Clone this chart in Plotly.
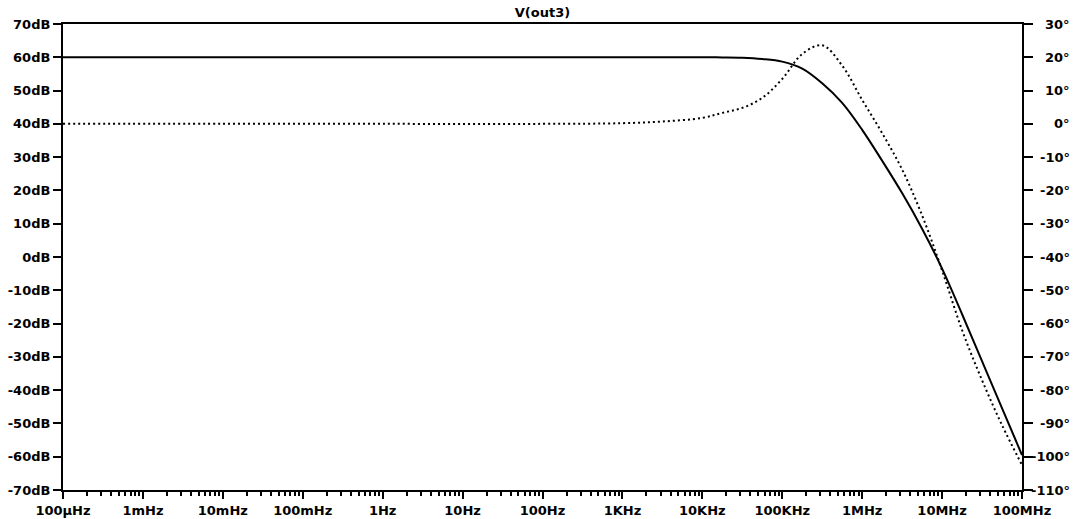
import plotly.graph_objects as go

# Magnitude of V(out3): frequencies (Hz) and dB values (solid)
mag_freq_hz = [1e-4, 1e-2, 1.0, 1e2, 1e3, 1e4, 1.78e4, 3.16e4, 5.62e4,
               1e5, 1.78e5, 3.16e5, 5.62e5, 1e6, 1.78e6, 3.16e6, 5.62e6,
               1e7, 1.78e7, 3.16e7, 5.62e7, 1e8]
mag_db = [60, 60, 60, 60, 60, 60, 59.97, 59.88, 59.5,
          58.7, 56.6, 52.2, 46.3, 38.2, 28.9, 19.2, 8.5,
          -3.5, -17.2, -31.3, -45.4, -59.5]

# Phase of V(out3): frequencies (Hz) and degrees (dotted)
phase_freq_hz = [1e-4, 1e-2, 1.0, 1e2, 1e3, 3.16e3, 1e4, 1.78e4, 3.16e4, 5.62e4,
                 1e5, 1.78e5, 3.16e5, 5.62e5, 1e6, 1.78e6, 3.16e6, 5.62e6,
                 1e7, 1.78e7, 3.16e7, 5.62e7, 1e8]
phase_deg = [0, 0, 0, 0, 0.2, 0.7, 1.8, 3.3, 4.8, 7.8,
             13.5, 21.0, 23.6, 17.5, 7.2, -2.8, -13.7, -27.5,
             -44.0, -62.0, -77.0, -90.5, -102.5]

x_tick_vals = [1e-4, 1e-3, 1e-2, 1e-1, 1, 10, 100, 1e3, 1e4, 1e5, 1e6, 1e7, 1e8]
x_tick_text = ["100µHz", "1mHz", "10mHz", "100mHz", "1Hz", "10Hz", "100Hz",
               "1KHz", "10KHz", "100KHz", "1MHz", "10MHz", "100MHz"]
x_minor_vals = [m * d for d in x_tick_vals[:-1] for m in range(2, 10)]

db_ticks = list(range(-70, 71, 10))
db_text = [f"{v}dB" for v in db_ticks]
deg_ticks = list(range(-110, 31, 10))
deg_text = [f"{v}°" for v in deg_ticks]

title_text = "V(out3)"

FONT = "DejaVu Sans"
fig = go.Figure()
fig.add_trace(go.Scatter(x=mag_freq_hz, y=mag_db, mode="lines",
                         line=dict(color="black", width=2, shape="spline", smoothing=1.0),
                         showlegend=False, hoverinfo="skip"))
fig.add_trace(go.Scatter(x=phase_freq_hz, y=phase_deg, mode="lines", yaxis="y2",
                         line=dict(color="black", width=2, dash="2px,3px",
                                   shape="spline", smoothing=1.0),
                         showlegend=False, hoverinfo="skip"))

fig.update_layout(
    width=1079, height=519,
    margin=dict(l=63, r=57, t=24, b=29, pad=0),
    paper_bgcolor="white", plot_bgcolor="white",
    font=dict(family=FONT, size=13, color="black"),
    title=dict(text=f"<b>{title_text}</b>", x=0.5, xanchor="center", xref="paper",
               y=1 - 12 / 519, yanchor="middle", automargin=False,
               font=dict(size=13, family=FONT)),
    xaxis=dict(type="log", range=[-4, 8], tickvals=x_tick_vals,
               ticktext=[f"<b>{t}</b>" for t in x_tick_text],
               ticks="outside", ticklen=7, tickwidth=2, tickcolor="black",
               minor=dict(tickvals=x_minor_vals, ticks="outside", ticklen=4,
                          tickwidth=1.5, tickcolor="black", showgrid=False),
               showline=True, linecolor="black", linewidth=2, mirror=True,
               showgrid=False, zeroline=False, automargin=False,
               tickfont=dict(size=13)),
    yaxis=dict(range=[-70, 70], tickvals=db_ticks,
               ticktext=[f"<b>{t}</b>" for t in db_text],
               ticks="outside", ticklen=8, tickwidth=2, tickcolor="black",
               showline=True, linecolor="black", linewidth=2,
               showgrid=False, zeroline=False, automargin=False,
               tickfont=dict(size=13)),
    yaxis2=dict(range=[-110, 30], overlaying="y", side="right",
                tickvals=deg_ticks, showticklabels=False,
                ticks="outside", ticklen=9, tickwidth=2, tickcolor="black",
                showline=True, linecolor="black", linewidth=2,
                showgrid=False, zeroline=False, automargin=False),
)

# right-aligned degree labels (as in the reference)
for v, t in zip(deg_ticks, deg_text):
    fig.add_annotation(x=1, xref="paper", y=v, yref="y2", text=f"<b>{t}</b>",
                       showarrow=False, xanchor="right", xshift=50,
                       font=dict(size=13, family=FONT, color="black"))

fig.write_html("out.html", config={"displayModeBar": False},
               post_script="document.body.style.margin='0';document.body.style.padding='0';")
